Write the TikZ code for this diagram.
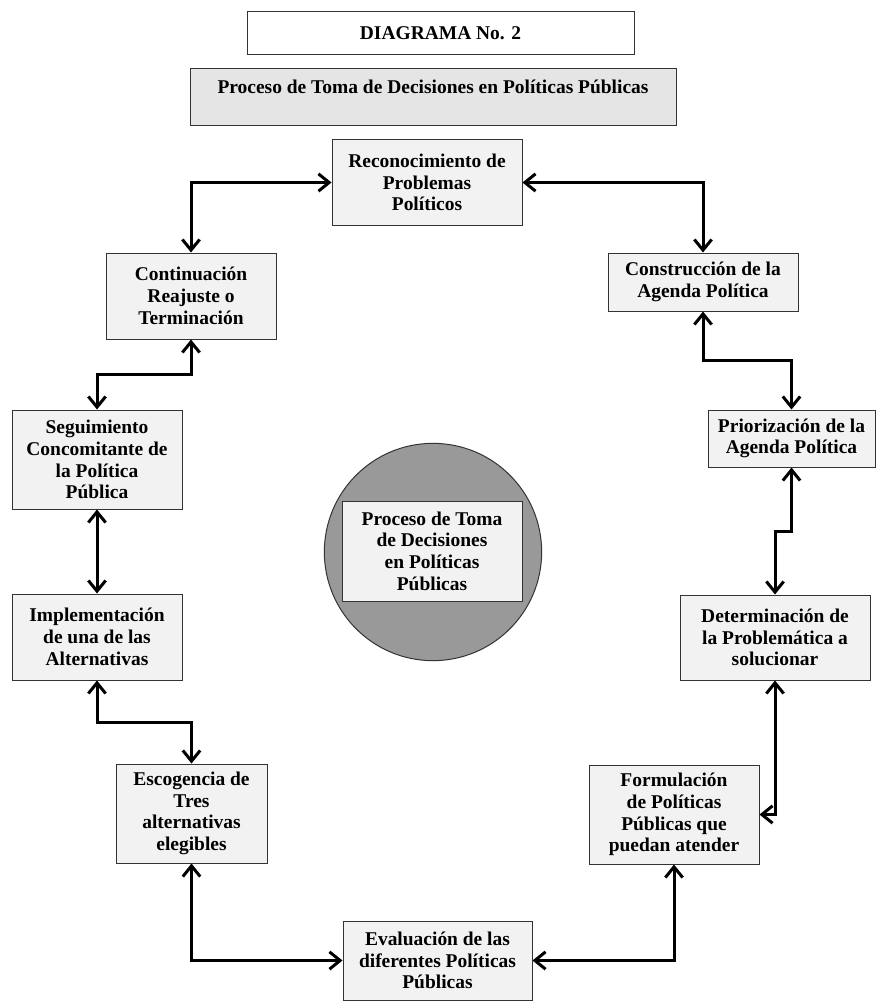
\documentclass[tikz,border=0pt]{standalone}
\usepackage{fontspec}
\setmainfont{Liberation Serif}
\usetikzlibrary{arrows.meta, calc}
\tikzset{
<->, % every connector points both ways
>={Straight Barb[length=8pt,width=13pt]}, % open arrow heads
x=0.75pt, y=-0.75pt, % coordinates given in pixels, y pointing down
stage/.style={draw=black!80, fill=black!5, line width=0.75pt, align=center, inner sep=2pt, font=\fontsize{14.6pt}{16.3pt}\selectfont\bfseries}, % one step of the process
link/.style={line width=2.25pt}, % connector between two steps
}

\begin{document}
\begin{tikzpicture}
        \useasboundingbox (0,0) rectangle (876,1002);

        \node[stage, fill=white, minimum width=290.25pt, minimum height=32.25pt] (diagrama) at (440.5,33.5) {DIAGRAMA No. 2};
        \node[stage, fill=black!10, minimum width=364.5pt, minimum height=42.75pt] (tema) at (433,97.5) {Proceso de Toma de Decisiones en Políticas Públicas\\[-5pt] \strut};

        \node[stage, minimum width=142.5pt, minimum height=63.75pt] (recon) at (427,182.5) {Reconocimiento de\\Problemas\\Políticos};
        \node[stage, minimum width=142.5pt, minimum height=43.5pt] (constr) at (703,282) {Construcción de la\\Agenda Política};
        \node[stage, minimum width=125.25pt, minimum height=42.75pt] (prior) at (791.5,438.5) {Priorización de la\\Agenda Política};
        \node[stage, minimum width=142.5pt, minimum height=63.75pt] (determ) at (775,637.5) {Determinación de\\la Problemática a\\solucionar};
        \node[stage, minimum width=127.5pt, minimum height=74.25pt] (formul) at (674,814.5) {Formulación\\de Políticas\\Públicas que\\puedan atender};
        \node[stage, minimum width=141.75pt, minimum height=59.25pt] (eval) at (437.5,960.5) {Evaluación de las\\diferentes Políticas\\Públicas};
        \node[stage, minimum width=113.25pt, minimum height=74.25pt] (escog) at (191.5,813.5) {Escogencia de\\Tres\\alternativas\\elegibles};
        \node[stage, minimum width=127.5pt, minimum height=64.5pt] (implem) at (97,637) {Implementación\\de una de las\\Alternativas};
        \node[stage, minimum width=127.5pt, minimum height=74.25pt] (seguim) at (97,459.5) {Seguimiento\\Concomitante de\\la Política\\Pública};
        \node[stage, minimum width=127.5pt, minimum height=64.5pt] (contin) at (191,296) {Continuación\\Reajuste o\\Terminación};

        \node[circle, draw=black!80, fill=black!40, line width=0.75pt, minimum size=163pt] (nucleo) at (433,552) {};
        \node[stage, minimum width=135pt, minimum height=75pt] (centro) at (432,551) {Proceso de Toma\\de Decisiones\\en Políticas\\Públicas};

        \draw[link] (contin.north) |- (recon.west);
        \draw[link] (recon.east) -| (constr.north);
        \draw[link] (constr.south) |- ($(constr.south)!.5!(prior.north)$) -| (prior.north);
        \draw[link] (prior.south) |- ($(prior.south)!.5!(determ.north)$) -| (determ.north);
        \draw[link] (determ.south) |- (formul.east);
        \draw[link] (formul.south) |- (eval.east);
        \draw[link] (escog.south) |- (eval.west);
        \draw[link] (implem.south) |- ($(implem.south)!.5!(escog.north)$) -| (escog.north);
        \draw[link] (seguim.south) -- (implem.north);
        \draw[link] (contin.south) |- ($(contin.south)!.5!(seguim.north)$) -| (seguim.north);
    \end{tikzpicture}
\end{document}
